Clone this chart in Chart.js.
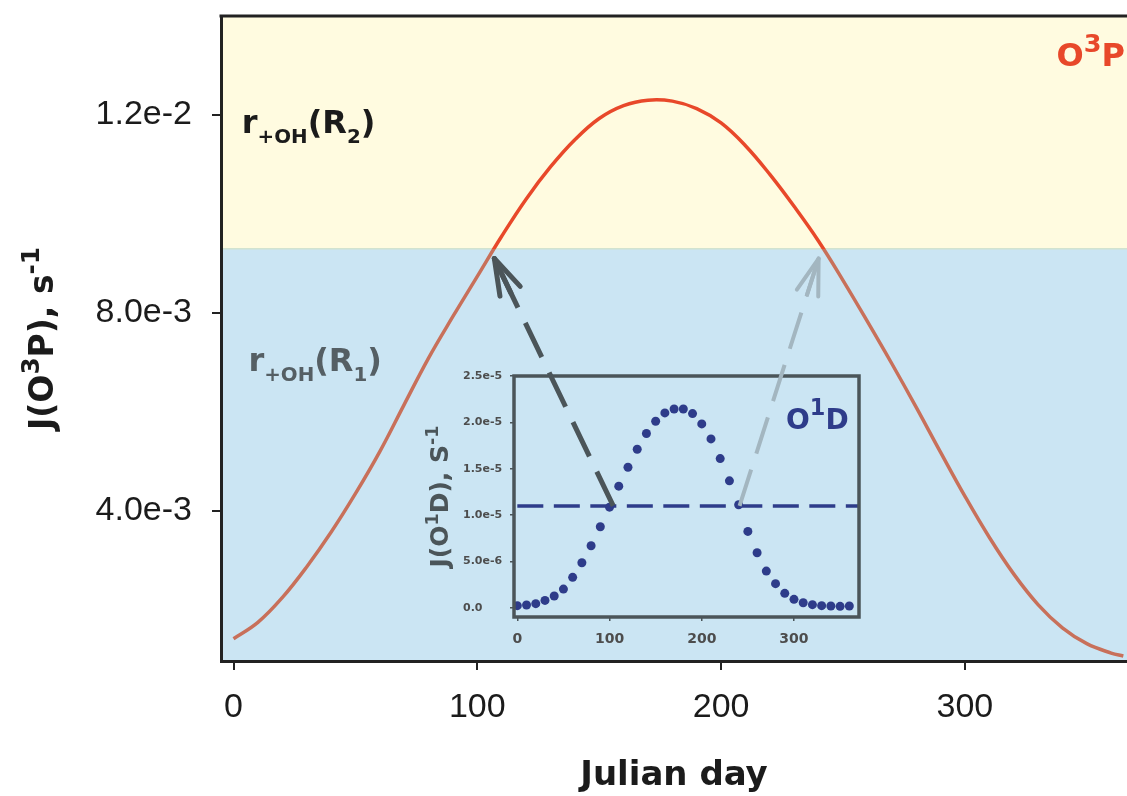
<!DOCTYPE html>
<html>
<head>
<meta charset="utf-8">
<title>J(O3P) and J(O1D) by Julian day</title>
<script src="https://cdn.jsdelivr.net/npm/chart.js@4.4.1/dist/chart.umd.min.js"></script>
<style>
  html, body { margin: 0; padding: 0; background: #ffffff; }
  #wrap { position: relative; width: 1127px; height: 796px; }
  #wrap canvas { position: absolute; left: 0; top: 0; }
  #insetChart { pointer-events: none; }
</style>
</head>
<body>
<div id="wrap">
  <canvas id="mainChart" width="1127" height="796"></canvas>
  <canvas id="insetChart" width="1127" height="796"></canvas>
</div>
<script>
// main panel: J(O3P) through the year, s-1
const julianDays = [0, 10, 20, 30, 40, 50, 60, 70, 80, 90, 100, 110, 120, 130, 140, 150, 160, 170, 180,
    190, 200, 210, 220, 230, 240, 250, 260, 270, 280, 290, 300, 310, 320, 330, 340, 350, 360, 365];
const jO3P = [1.42e-3, 1.75e-3, 2.25e-3, 2.87e-3, 3.57e-3, 4.35e-3, 5.20e-3, 6.15e-3, 7.09e-3, 7.93e-3,
    8.74e-3, 9.55e-3, 10.30e-3, 10.95e-3, 11.50e-3, 11.93e-3, 12.19e-3, 12.30e-3, 12.28e-3, 12.13e-3,
    11.84e-3, 11.38e-3, 10.80e-3, 10.15e-3, 9.45e-3, 8.66e-3, 7.83e-3, 6.98e-3, 6.10e-3, 5.19e-3,
    4.30e-3, 3.47e-3, 2.73e-3, 2.11e-3, 1.64e-3, 1.32e-3, 1.13e-3, 1.07e-3];
const dayTicks = [0, 100, 200, 300];
const o3pTicks = [4.0e-3, 8.0e-3, 1.2e-2];
const o3pTickLabels = ['4.0e-3', '8.0e-3', '1.2e-2'];
const regimeSplit = 9.3e-3; // R1 below, R2 above

// inset: J(O1D), s-1
const insetDays = [0, 10, 20, 30, 40, 50, 60, 70, 80, 90, 100, 110, 120, 130, 140, 150, 160, 170, 180,
    190, 200, 210, 220, 230, 240, 250, 260, 270, 280, 290, 300, 310, 320, 330, 340, 350, 360];
const jO1D = [0.25e-6, 0.32e-6, 0.47e-6, 0.82e-6, 1.29e-6, 2.04e-6, 3.30e-6, 4.88e-6, 6.71e-6, 8.75e-6,
    10.87e-6, 13.13e-6, 15.17e-6, 17.11e-6, 18.80e-6, 20.12e-6, 21.02e-6, 21.45e-6, 21.45e-6, 20.95e-6,
    19.84e-6, 18.22e-6, 16.10e-6, 13.70e-6, 11.12e-6, 8.25e-6, 5.95e-6, 3.98e-6, 2.62e-6, 1.58e-6,
    0.93e-6, 0.57e-6, 0.36e-6, 0.25e-6, 0.22e-6, 0.18e-6, 0.22e-6];
const insetDayTicks = [0, 100, 200, 300];
const o1dTicks = [0, 5e-6, 1e-5, 1.5e-5, 2e-5, 2.5e-5];
const o1dTickLabels = ['0.0', '5.0e-6', '1.0e-5', '1.5e-5', '2.0e-5', '2.5e-5'];
const o1dThreshold = 1.1e-5;

// arrows: tail on the inset threshold (inset units), tip on the main curve (main units)
const arrows = [
    { tail: [104, 1.1e-5], tip: [107, 9.1e-3], color: '#4b5559', width: 5 },
    { tail: [241, 1.1e-5], tip: [240, 9.1e-3], color: '#a3b6c0', width: 4 }
];

const BOLD = '"DejaVu Sans", sans-serif';
const RED = '#e8482a';
const RED_MUTED = '#c8705a';
const NAVY = '#2e3c8a';

Chart.defaults.font.family = '"Liberation Sans", Arial, sans-serif';

// text with superscripts / subscripts, parts = [text, 'sup'|'sub'|undefined]
function drawRichText(ctx, parts, x, y, o) {
    let total = 0;
    const sizes = parts.map(([t, k]) => {
        const size = k ? o.size * o.small : o.size;
        ctx.font = `bold ${size}px ${BOLD}`;
        const w = ctx.measureText(t).width;
        total += w;
        return { size, w };
    });
    let cx = x;
    if (o.align === 'right') cx = x - total;
    if (o.align === 'center') cx = x - total / 2;
    ctx.fillStyle = o.color;
    ctx.textAlign = 'left';
    ctx.textBaseline = 'alphabetic';
    parts.forEach(([t, k], i) => {
        ctx.font = `bold ${sizes[i].size}px ${BOLD}`;
        let dy = 0;
        if (k === 'sup') dy = -o.size * o.shift;
        if (k === 'sub') dy = o.size * o.shift;
        ctx.fillText(t, cx, y + dy);
        cx += sizes[i].w;
    });
}

function curveColor(chart) {
    const a = chart.chartArea;
    if (!a) return RED;
    const split = chart.scales.y.getPixelForValue(regimeSplit);
    const f = Math.min(Math.max((split - a.top) / (a.bottom - a.top), 0), 1);
    const g = chart.ctx.createLinearGradient(0, a.top, 0, a.bottom);
    g.addColorStop(0, RED);
    g.addColorStop(f, RED);
    g.addColorStop(f, RED_MUTED);
    g.addColorStop(1, RED_MUTED);
    return g;
}

const bandsPlugin = {
    id: 'bands',
    beforeDraw(chart) {
        const { ctx, chartArea: a } = chart;
        const split = chart.scales.y.getPixelForValue(regimeSplit);
        ctx.save();
        ctx.fillStyle = '#ffffff';
        ctx.fillRect(0, 0, chart.width, chart.height);
        ctx.fillStyle = '#fffbe0';
        ctx.fillRect(a.left, a.top, a.width, split - a.top);
        ctx.fillStyle = '#cbe5f3';
        ctx.fillRect(a.left, split, a.width, a.bottom - split);
        ctx.strokeStyle = '#d2e3d0';
        ctx.lineWidth = 1.5;
        ctx.beginPath();
        ctx.moveTo(a.left, split);
        ctx.lineTo(a.right, split);
        ctx.stroke();
        ctx.restore();
    },
    afterDraw(chart) {
        const { ctx, chartArea: a, scales: { x, y } } = chart;
        ctx.save();
        // top frame line
        ctx.strokeStyle = '#222222';
        ctx.lineWidth = 3;
        ctx.beginPath();
        ctx.moveTo(a.left - 1.5, a.top);
        ctx.lineTo(a.right, a.top);
        ctx.stroke();

        drawRichText(ctx, [['r'], ['+OH', 'sub'], ['(R'], ['2', 'sub'], [')']],
            x.getPixelForValue(3.4), y.getPixelForValue(11.64e-3),
            { size: 32, small: 0.62, shift: 0.31, color: '#1b1b1b' });
        drawRichText(ctx, [['r'], ['+OH', 'sub'], ['(R'], ['1', 'sub'], [')']],
            x.getPixelForValue(6.1), y.getPixelForValue(6.82e-3),
            { size: 32, small: 0.62, shift: 0.31, color: '#555f64' });
        drawRichText(ctx, [['O'], ['3', 'sup'], ['P']],
            a.right - 2, y.getPixelForValue(13.0e-3),
            { size: 32, small: 0.8, shift: 0.42, color: RED, align: 'right' });

        // y axis title
        ctx.translate(41, (a.top + a.bottom) / 2);
        ctx.rotate(-Math.PI / 2);
        drawRichText(ctx, [['J(O'], ['3', 'sup'], ['P), s'], ['-1', 'sup']], 0, 0.36 * 33,
            { size: 33, small: 0.75, shift: 0.42, color: '#1b1b1b', align: 'center' });
        ctx.restore();
    }
};

const mainChart = new Chart(document.getElementById('mainChart'), {
    type: 'line',
    data: {
        datasets: [{
            data: julianDays.map((d, i) => ({ x: d, y: jO3P[i] })),
            borderColor: ctx => curveColor(ctx.chart),
            borderWidth: 3.5,
            pointRadius: 0,
            tension: 0.4,
            fill: false
        }]
    },
    options: {
        responsive: false,
        animation: false,
        layout: { padding: { top: 16, left: 0, right: 0, bottom: 0 } },
        plugins: { legend: { display: false }, tooltip: { enabled: false } },
        scales: {
            x: {
                type: 'linear',
                min: -5.13,
                max: 366.5,
                afterBuildTicks: s => { s.ticks = dayTicks.map(v => ({ value: v })); },
                afterFit: s => { s.height = 135; s.paddingLeft = 0; s.paddingRight = 0; },
                ticks: { font: { size: 34 }, color: '#1b1b1b', padding: 17, maxRotation: 0 },
                grid: { drawOnChartArea: false, tickLength: 9, color: '#222222', lineWidth: 2 },
                border: { display: true, color: '#222222', width: 3 },
                title: {
                    display: true,
                    text: 'Julian day',
                    color: '#1b1b1b',
                    font: { family: BOLD, weight: 'bold', size: 34, lineHeight: 1 },
                    padding: { top: 0, bottom: 3 }
                }
            },
            y: {
                min: 0.97e-3,
                max: 14.0e-3,
                afterBuildTicks: s => { s.ticks = o3pTicks.map(v => ({ value: v })); },
                afterFit: s => { s.width = 221; s.paddingTop = 0; s.paddingBottom = 0; },
                ticks: {
                    font: { size: 34 },
                    color: '#1b1b1b',
                    padding: 20,
                    callback: v => o3pTickLabels[o3pTicks.indexOf(v)]
                },
                grid: { drawOnChartArea: false, tickLength: 9, color: '#222222', lineWidth: 2 },
                border: { display: true, color: '#222222', width: 3 }
            }
        }
    },
    plugins: [bandsPlugin]
});

function drawArrow(ctx, x0, y0, x1, y1, color, width) {
    ctx.save();
    ctx.strokeStyle = color;
    ctx.lineWidth = width;
    ctx.lineCap = 'butt';
    ctx.setLineDash([38, 17]);
    ctx.beginPath();
    ctx.moveTo(x0, y0);
    ctx.lineTo(x1, y1);
    ctx.stroke();
    ctx.setLineDash([]);
    ctx.lineCap = 'round';
    const back = Math.atan2(y0 - y1, x0 - x1);
    [-0.3, 0, 0.3].forEach(da => {
        ctx.beginPath();
        ctx.moveTo(x1, y1);
        ctx.lineTo(x1 + 38 * Math.cos(back + da), y1 + 38 * Math.sin(back + da));
        ctx.stroke();
    });
    ctx.restore();
}

const insetPlugin = {
    id: 'insetDecor',
    afterDraw(chart) {
        const { ctx, chartArea: a, scales: { x, y } } = chart;
        ctx.save();
        ctx.strokeStyle = '#4b5559';
        ctx.lineWidth = 3.5;
        ctx.strokeRect(a.left, a.top, a.width, a.height);

        drawRichText(ctx, [['O'], ['1', 'sup'], ['D']],
            x.getPixelForValue(291.4), y.getPixelForValue(19.26e-6),
            { size: 28, small: 0.8, shift: 0.5, color: NAVY });

        ctx.save();
        ctx.translate(a.left - 75, (a.top + a.bottom) / 2);
        ctx.rotate(-Math.PI / 2);
        drawRichText(ctx, [['J(O'], ['1', 'sup'], ['D), S'], ['-1', 'sup']], 0, 0.36 * 25,
            { size: 25, small: 0.7, shift: 0.42, color: '#4b5559', align: 'center' });
        ctx.restore();

        // arrows from the O1D threshold crossings up to the O3P curve
        const mx = mainChart.scales.x;
        const my = mainChart.scales.y;
        arrows.forEach(ar => {
            drawArrow(ctx,
                x.getPixelForValue(ar.tail[0]), y.getPixelForValue(ar.tail[1]),
                mx.getPixelForValue(ar.tip[0]), my.getPixelForValue(ar.tip[1]),
                ar.color, ar.width);
        });
        ctx.restore();
    }
};

const insetChart = new Chart(document.getElementById('insetChart'), {
    type: 'scatter',
    data: {
        datasets: [{
            type: 'line',
            data: [{ x: 0, y: o1dThreshold }, { x: 370.5, y: o1dThreshold }],
            borderColor: NAVY,
            borderWidth: 3.5,
            borderDash: [26, 10.5],
            pointRadius: 0
        }, {
            data: insetDays.map((d, i) => ({ x: d, y: jO1D[i] })),
            backgroundColor: NAVY,
            borderWidth: 0,
            pointRadius: 4.5
        }]
    },
    options: {
        responsive: false,
        animation: false,
        layout: { padding: { left: 463, top: 376, right: 268, bottom: 139 } },
        plugins: { legend: { display: false }, tooltip: { enabled: false } },
        scales: {
            x: {
                type: 'linear',
                min: -3.6,
                max: 370.5,
                afterBuildTicks: s => { s.ticks = insetDayTicks.map(v => ({ value: v })); },
                afterFit: s => { s.height = 40; s.paddingLeft = 0; s.paddingRight = 0; },
                ticks: { font: { family: BOLD, weight: 'bold', size: 14 }, color: '#4d4d4d', padding: 9.5, maxRotation: 0 },
                grid: { drawOnChartArea: false, tickLength: 4, color: '#4b5559', lineWidth: 1.5 },
                border: { display: false }
            },
            y: {
                min: -0.97e-6,
                max: 2.5e-5,
                afterBuildTicks: s => { s.ticks = o1dTicks.map(v => ({ value: v })); },
                afterFit: s => { s.width = 51; s.paddingTop = 0; s.paddingBottom = 0; },
                ticks: {
                    font: { family: BOLD, weight: 'bold', size: 11 },
                    color: '#4d4d4d',
                    crossAlign: 'far',
                    callback: v => o1dTickLabels[o1dTicks.indexOf(v)]
                },
                grid: { drawOnChartArea: false, tickLength: 4, color: '#4b5559', lineWidth: 1.5 },
                border: { display: false }
            }
        }
    },
    plugins: [insetPlugin]
});
</script>
</body>
</html>
